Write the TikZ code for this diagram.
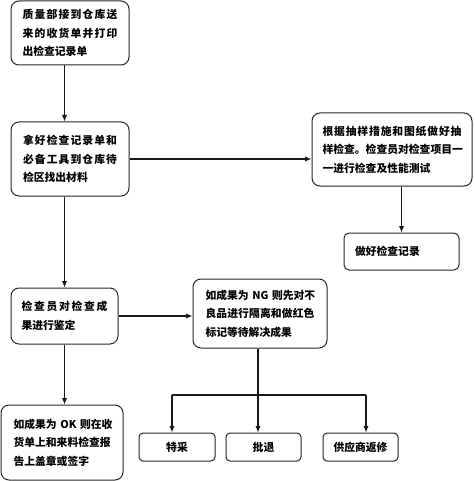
\documentclass[tikz,border=0pt]{standalone}
\usepackage{fontspec}
\newfontfamily\cjk{Noto Sans CJK SC}
\usetikzlibrary{arrows.meta}
\makeatletter
\def\jl@end{\jl@end}
\def\jl#1{\makebox[\linewidth][s]{\jl@first#1\jl@end}}
\def\jl@first#1{#1\jl@a}
\def\jl@a#1{\def\jl@tmp{#1}\ifx\jl@tmp\jl@endm\else\hfill#1\expandafter\jl@a\fi}
\def\jl@endm{\jl@end}
\makeatother
\begin{document}
\begin{tikzpicture}[x=1pt,y=-1pt,
  box/.style={draw=black!85, line width=1pt, rounded corners=8pt, inner xsep=0pt, inner ysep=0pt,
    align=left, font=\cjk\bfseries\fontsize{10.8}{18.5}\selectfont},
  sbox/.style={draw=black!85, line width=1pt, rounded corners=4pt, inner sep=0pt,
    minimum height=28pt, align=center, font=\cjk\bfseries\fontsize{10.8}{13}\selectfont},
  arr/.style={draw=black!90, line width=1.2pt, -{Latex[length=6.5pt,width=5.5pt]}},
  ln/.style={draw=black!90, line width=1.2pt}]
\useasboundingbox (0,0) rectangle (474,481);

\node[box, minimum width=118pt, minimum height=64pt, text width=95pt] (b1) at (70,33)
  {\jl{质量部接到仓库送}\\\jl{来的收货单并打印}\\出检查记录单};
\node[box, minimum width=118pt, minimum height=74pt, text width=94pt] (b2) at (70,159)
  {\jl{拿好检查记录单和}\\\jl{必备工具到仓库待}\\检区找出材料};
\node[box, minimum width=160pt, minimum height=73pt, text width=139pt] (b3) at (392,149.5)
  {\jl{根据抽样措施和图纸做好抽}\\\jl{样检查。检查员对检查项目一}\\一进行检查及性能测试};
\node[box, rounded corners=5pt, minimum width=115pt, minimum height=37pt, text width=93pt] (b4) at (401.5,251.5)
  {做好检查记录};
\node[box, minimum width=107pt, minimum height=56pt, text width=86pt] (b5) at (64.5,316)
  {\jl{检查员对检查成}\\果进行鉴定};
\node[box, minimum width=134pt, minimum height=69pt, text width=109pt] (b6) at (260,313.5)
  {\jl{如成果为{ NG }则先对不}\\\jl{良品进行隔离和做红色}\\标记等待解决成果};
\node[box, minimum width=122pt, minimum height=75pt, text width=97pt] (b7) at (62,442.5)
  {\jl{如成果为{ OK }则在收}\\\jl{货单上和来料检查报}\\告上盖章或签字};

\node[sbox, minimum width=76pt] (s1) at (177,447) {特采};
\node[sbox, minimum width=75pt] (s2) at (263.5,447) {批退};
\node[sbox, minimum width=75pt] (s3) at (360.5,447) {供应商返修};

\draw[arr] (b1.south -| b5.north) -- (b2.north -| b5.north);
\draw[arr] (b2.south -| b5.north) -- (b5.north);
\draw[arr] (b5.south) -- (b7.north -| b5.south);
\draw[arr] (b2.east) -- (b2.east -| b3.west);
\draw[arr] (b3.south -| b4.north) -- (b4.north);
\draw[arr] (b5.east) -- (b5.east -| b6.west);

\coordinate (j) at (258,395);
\coordinate (t1) at (172,395);
\coordinate (t3) at (366,395);
\draw[ln] (j |- b6.south) -- (j);
\draw[ln] (t1) -- (t3);
\draw[arr] (t1) -- (t1 |- s1.north);
\draw[arr] (j) -- (j |- s2.north);
\draw[arr] (t3) -- (t3 |- s3.north);
\end{tikzpicture}
\end{document}
